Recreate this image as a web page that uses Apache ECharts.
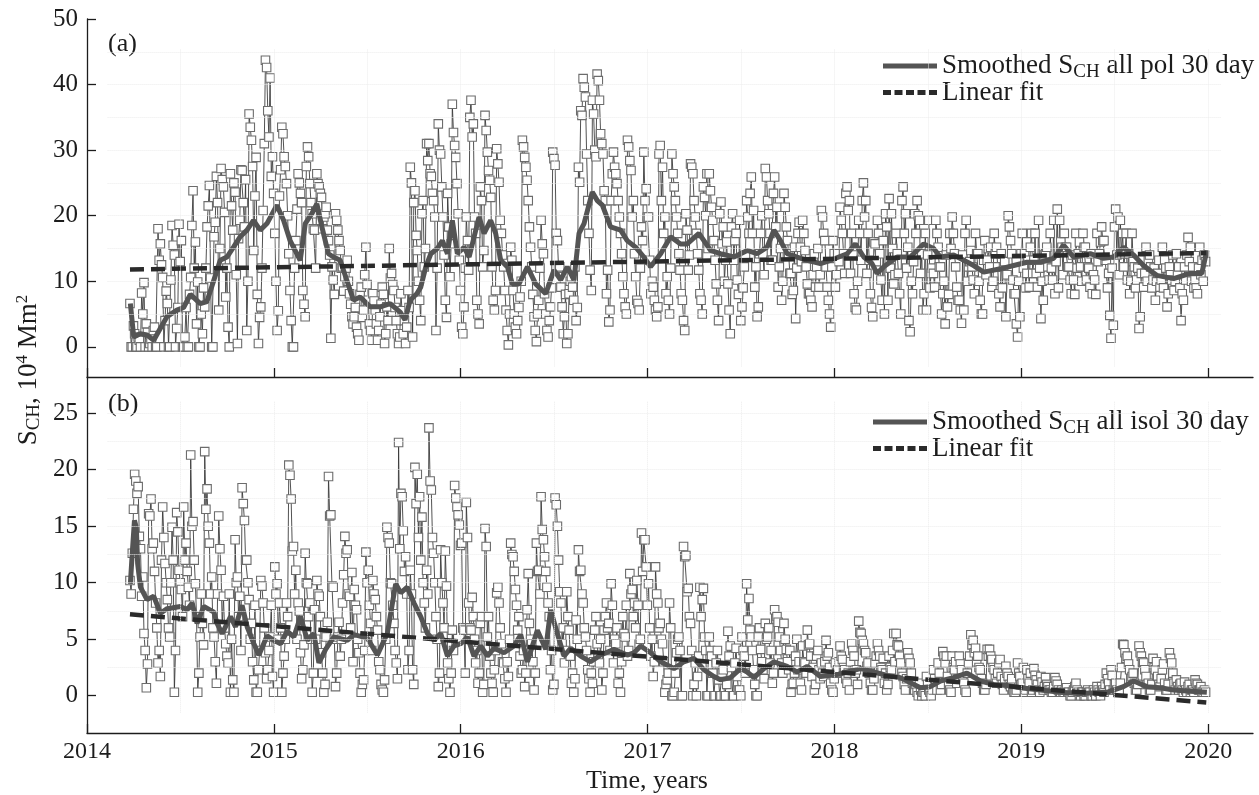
<!DOCTYPE html>
<html><head><meta charset="utf-8">
<script src="https://cdn.jsdelivr.net/npm/echarts@6/dist/echarts.min.js"></script>
<style>html,body{margin:0;padding:0;background:#fff}#c{width:1259px;height:795px}</style>
</head><body><div id="c"></div>
<script>
// time sampling of the measurements (decimal years): main samples at T0 + i*DT, mid samples at T0 + (i+0.5)*DT
const T0 = 2014.23, DT = 0.0125;

// Panel (a): S_CH all polar coronal holes, 10^4 Mm^2 (8 samples / 0.1 yr)
const rawA = [
 6.6,0,2.0,0,1.0,8.2,9.8,3.5, 0,1.2,2.5,0,18.0,15.7,10.6,4.0, 6.6,0,18.5,14.0,2.8,18.7,16.2,0,
 6.0,0,10.6,23.8,16.0,9.9,0,2.0, 6.1,18.3,24.6,0,16.8,26.0,5.6,27.2, 24.4,7.6,3.0,26.4,17.8,23.6,0.5,19.3,
 26.9,18.3,2.5,35.5,31.5,14.7,28.9,0.5, 6.1,20.8,43.7,36.0,41.0,29.0,17.3,2.5, 23.0,33.5,29.0,24.9,14.2,4.0,0,16.2,
 26.4,23.4,8.6,4.6,30.5,24.9,20.3,17.8, 26.4,24.4,22.8,19.8,21.3,16.2,1.3,10.2, 20.3,17.8,14.7,12.2,10.7,13.2,8.1,4.6,
 4.6,3.0,1.0,9.1,5.6,15.2,7.1,2.5, 8.1,5.6,1.0,4.6,9.1,0.5,6.1,15.0, 11.2,8.6,4.0,0.5,8.1,2.0,0.5,8.6,
 27.4,1.5,23.8,14.7,7.1,20.3,12.2,31.0, 31.0,26.0,22.3,2.5,34.0,29.4,19.8,7.1, 23.4,10.7,37.0,30.7,24.9,13.2,3.0,6.1,
 19.8,11.7,37.6,34.0,17.3,5.0,24.4,12.2, 35.3,29.7,25.4,12.2,5.6,30.2,25.1,17.3, 12.2,5.6,0.3,15.2,8.6,3.0,4.0,7.6,
 31.5,28.9,25.4,18.3,12.2,4.6,0.8,7.1, 19.3,14.2,5.0,1.5,6.1,29.7,27.7,16.2, 12.2,6.1,4.6,0.5,8.1,10.7,7.1,4.0,
 27.4,36.0,40.9,38.1,22.3,11.7,37.6,30.0, 41.6,37.6,31.0,23.8,8.1,3.8,22.3,29.7, 26.4,22.3,17.3,10.7,6.1,31.5,28.4,19.8,
 14.2,7.1,5.6,18.3,29.7,24.1,19.8,8.1, 9.1,5.6,6.1,30.7,27.4,19.8,10.7,5.0, 29.4,24.4,19.8,14.2,8.1,4.0,20.3,11.7,
 27.9,26.4,19.8,14.2,8.1,5.0,22.8,26.4, 26.4,21.3,16.2,9.6,4.0,22.1,18.3,13.2, 9.6,2.0,20.3,16.2,10.2,19.3,6.1,12.2,
 22.3,17.3,25.9,20.8,12.2,6.1,17.3,14.2, 27.2,22.3,17.3,13.2,25.9,21.3,12.2,7.1, 23.4,18.3,14.2,11.2,8.6,4.3,17.3,15.2,
 19.3,14.7,9.6,8.1,6.1,14.2,12.2,9.1, 20.8,17.3,12.2,7.1,3.0,16.2,9.1,14.2, 21.3,17.3,11.2,24.4,22.3,17.3,8.1,5.6,
 19.3,13.2,25.0,22.3,17.3,8.1,4.6,15.7, 19.3,14.2,7.1,5.0,18.3,22.6,20.3,9.6, 17.3,11.2,5.0,24.4,20.3,15.2,2.3,8.1,
 20.3,22.3,19.3,14.2,8.1,5.6,19.3,11.2, 11.2,19.3,15.2,12.2,8.1,3.5,6.1,17.3, 19.8,14.2,9.1,7.1,3.6,5.6,19.3,12.2,
 14.7,10.2,17.3,14.2,7.1,5.0,16.2,13.2, 12.2,9.1,17.3,15.2,8.1,14.2,12.2,4.6, 20.0,16.2,10.2,8.1,1.5,4.6,17.3,14.2,
 11.2,9.1,17.3,13.2,11.2,19.3,4.3,7.1, 14.2,12.2,17.3,10.2,8.1,21.0,19.3,15.2, 17.3,15.2,12.2,8.1,10.2,17.3,14.2,12.2,
 17.3,15.2,12.2,9.1,8.1,10.2,17.3,14.2, 18.3,16.2,13.2,11.2,1.3,3.3,21.0,19.8, 19.3,17.3,14.2,10.2,8.1,17.3,12.2,10.2,
 2.8,11.2,9.1,15.2,13.2,12.2,10.2,7.1, 11.2,9.1,15.2,13.2,6.1,12.2,10.2,8.6, 14.2,12.2,4.0,7.1,10.2,16.7,15.2,12.2,
 10.2,8.1,15.2,13.2,14.0
];
const rawAmid = [
 0,3.2,0,1.5,0,5.0,0,2.2, 0.5,0,3.0,0,13.2,12.5,0,8.5, 0,10.2,15.5,0,6.0,13.0,0,1.5,
 0,8.0,18.5,12.0,3.5,0,5.0,9.0, 12.0,21.5,10.5,0,19.0,22.0,15.0,25.5, 20.5,12.0,0,21.5,25.0,11.0,16.5,27.0,
 22.0,25.5,10.0,33.5,27.5,23.0,8.0,4.5, 12.0,31.0,42.6,32.0,26.0,23.4,10.0,5.5, 27.0,32.5,27.5,20.0,8.6,0,12.0,21.0,
 25.0,22.0,6.5,27.5,29.0,22.0,18.0,12.0, 24.9,23.4,18.0,20.3,17.8,14.0,12.2,8.0, 19.3,16.2,12.0,8.5,12.0,10.0,6.5,3.5,
 6.0,2.0,8.0,4.5,11.0,9.5,3.5,1.0, 7.0,3.5,2.5,6.5,8.0,2.0,4.0,10.5, 9.5,6.0,2.0,1.5,5.5,4.0,3.0,6.0,
 25.0,22.0,17.0,10.0,4.0,22.3,15.0,28.4, 26.4,23.4,19.8,12.0,30.0,24.4,14.0,4.5, 18.3,15.7,32.7,28.9,20.3,8.6,2.0,12.0,
 16.2,35.0,32.0,19.8,7.1,3.5,22.3,14.7, 33.0,26.9,22.8,7.1,8.6,27.9,19.3,14.0, 8.6,2.5,5.0,13.2,5.0,2.0,6.0,10.0,
 30.5,27.4,22.3,15.2,8.0,2.5,5.0,12.0, 15.7,8.1,2.5,4.0,9.0,28.7,17.3,12.0, 9.1,2.0,8.0,2.0,10.0,9.1,12.2,6.0,
 25.1,35.3,39.6,29.4,17.3,8.6,35.5,29.0, 40.6,32.5,29.4,22.3,11.7,5.6,26.4,27.4, 24.9,19.8,14.2,8.1,5.0,30.5,26.9,22.3,
 10.7,6.6,12.0,16.2,22.3,19.8,13.2,10.0, 7.1,4.6,29.4,22.3,17.3,8.1,7.1,12.0, 26.4,22.3,17.3,11.7,7.1,2.5,17.8,14.0,
 27.4,22.3,17.3,11.7,7.1,24.4,20.0,15.0, 23.8,19.3,13.2,7.1,20.3,15.7,10.0,16.0, 5.6,18.3,13.2,17.3,8.0,4.0,9.0,14.0,
 19.8,23.4,17.3,9.1,4.6,14.2,20.0,11.0, 25.9,20.3,13.2,23.4,18.3,9.1,15.0,10.0, 21.3,16.2,11.2,8.0,15.2,12.0,19.0,13.0,
 17.3,12.2,8.1,7.1,11.0,9.1,15.0,11.0, 19.8,16.2,9.1,5.0,12.2,14.2,11.0,13.0, 19.3,14.2,23.4,20.8,11.2,14.0,6.0,10.0,
 17.3,22.3,19.8,11.2,13.2,6.0,16.0,13.0, 17.3,10.2,16.2,20.3,7.1,12.0,15.0,11.0, 14.2,8.1,22.3,17.3,12.0,4.0,10.0,13.0,
 17.3,20.0,11.2,5.6,17.3,14.0,9.0,12.0, 9.1,17.3,12.2,5.0,10.0,14.0,8.0,15.0, 17.3,12.2,7.1,5.6,14.0,17.3,10.0,13.0,
 12.2,8.1,14.2,10.0,5.0,13.2,11.0,15.0, 15.2,10.0,14.2,12.2,6.1,9.0,13.0,11.0, 18.3,14.2,8.1,3.5,10.0,14.2,12.0,9.0,
 13.2,15.2,11.2,17.3,9.1,12.0,10.0,14.0, 15.2,10.2,12.0,19.3,13.0,9.0,16.0,11.0, 15.2,12.2,10.2,14.0,8.0,12.0,16.0,10.0,
 15.2,10.2,12.0,14.2,11.0,8.0,13.0,16.0, 16.2,13.2,9.0,4.8,12.0,18.3,14.0,11.0, 14.2,12.2,17.3,14.2,10.0,13.0,9.0,12.0,
 4.6,13.2,11.2,10.0,14.0,9.0,12.0,10.0, 13.2,10.2,9.0,12.0,8.1,11.0,14.0,10.0, 11.0,9.0,8.1,12.2,14.0,13.0,10.0,9.0,
 9.0,12.0,11.0,10.0,13.0
];
// Panel (b): S_CH all isolated coronal holes
const rawB = [
 10.2,12.6,19.6,17.9,14.1,8.8,5.5,0.7, 16.1,17.4,13.5,8.2,2.9,1.7,16.7,11.7, 8.5,5.2,14.9,0.3,16.2,11.1,9.4,16.7,
 13.5,9.6,21.3,15.4,9.9,0.3,5.2,6.4, 21.6,18.3,13.5,10.5,5.2,1.1,15.9,11.1, 8.8,4.6,2.9,0.3,1.4,13.8,10.5,8.8,
 18.4,15.5,12.0,8.5,6.4,1.4,0.3,2.3, 10.2,8.2,3.8,2.3,5.2,1.7,11.4,9.9, 8.2,0.3,3.5,8.2,20.4,17.4,13.2,11.1,
 8.2,3.8,2.3,12.6,9.9,8.2,0.3,7.6, 10.2,8.8,3.8,0.3,5.2,19.4,16.0,9.6, 0.8,5.2,3.5,8.2,14.1,12.9,8.8,10.9,
 9.4,7.6,3.8,0.3,1.4,12.7,11.1,6.4, 10.2,8.5,5.8,2.3,0.5,1.4,14.9,13.5, 9.9,6.4,2.9,22.4,17.9,14.6,12.3,2.3,
 11.1,2.3,20.2,19.6,17.6,15.8,8.2,11.1, 23.7,18.2,12.6,7.0,0.8,12.9,8.2,12.8, 2.9,0.3,5.8,18.6,16.7,15.1,13.5,5.8,
 17.1,8.2,5.8,7.0,2.9,1.1,6.4,0.3, 14.8,5.2,3.5,1.1,2.3,9.1,8.2,4.6, 2.9,0.3,1.7,13.5,12.3,9.4,5.8,3.5,
 2.3,0.8,7.6,6.4,4.6,0.5,13.5,11.1, 17.6,13.8,11.0,8.2,2.3,0.5,17.5,15.0, 9.2,4.6,2.9,9.2,5.8,1.1,0.3,6.7,
 12.9,11.1,8.2,5.2,2.3,0.3,1.1,5.8, 4.6,2.9,0.5,5.8,8.2,6.4,9.9,2.9, 4.6,1.1,0.3,7.0,5.2,3.5,10.8,9.4,
 8.2,10.2,4.6,14.4,13.8,11.4,9.9,3.5, 1.7,11.4,8.2,6.4,4.6,0.3,1.4,8.2, 0,0.3,3.8,5.2,0,13.2,12.4,9.5,
 6.4,0,2.9,1.7,9.6,8.5,5.2,0, 5.2,3.5,0,2.9,1.4,0,2.3,0, 5.7,4.4,0,2.9,1.7,0.5,5.2,3.5,
 9.9,8.6,5.2,2.3,0,5.2,4.1,2.3, 6.4,5.2,2.9,1.1,7.6,7.0,5.2,2.9, 6.4,4.1,2.3,0.3,1.1,3.5,2.3,1.1,
 4.4,2.9,5.8,4.6,1.7,0.5,3.5,2.3, 2.9,1.7,4.9,3.8,1.1,0.3,2.9,2.3, 4.4,3.2,2.3,1.1,0.5,4.6,3.5,2.3,
 6.6,5.5,4.6,3.8,2.9,1.1,0.5,2.9, 4.6,3.5,2.3,1.1,0.5,3.5,2.3,5.5, 5.5,4.4,2.9,1.7,0.5,3.8,2.9,1.1,
 0.5,0.3,1.1,0,0.3,1.7,0.5,0, 2.3,1.1,2.9,0.5,3.9,2.9,1.7,0.5, 3.5,2.3,1.1,3.5,2.3,1.1,0.3,2.9,
 5.4,4.9,4.2,3.5,2.3,1.1,0.5,4.1, 4.1,3.2,2.3,1.1,2.9,1.7,0.5,2.6, 1.7,0.8,0.5,0.3,2.9,1.7,1.1,0.3,
 2.3,1.1,0.3,2.4,1.4,0.5,1.7,0.5, 1.6,0.8,0.5,0.3,1.6,1.0,0.3,0.5, 0.3,0.7,0.3,0,0.5,1.1,0.3,0,
 0.3,0,0.5,0.3,0,0.3,0.8,0.3, 0.8,0.3,2.0,1.1,2.3,0.5,1.1,0.3, 1.1,4.6,3.8,3.5,2.3,1.7,1.1,0.5,
 4.4,3.5,2.9,1.7,1.1,0.5,3.3,2.3, 1.7,0.8,2.3,1.1,0.5,3.8,2.9,1.1, 1.4,0.5,1.1,0.3,0.5,0.8,0.3,0.5,
 1.4,1.0,0.5,0.3,0.5
];
const rawBmid = [
 9.0,16.5,19.0,18.5,13.0,10.5,4.0,2.8, 15.9,13.0,11.0,6.0,4.0,12.0,14.0,10.0, 6.0,10.0,12.0,4.0,14.5,10.0,7.0,12.0,
 11.0,8.0,15.0,12.0,7.0,2.0,9.0,4.5, 16.5,15.0,9.0,6.0,3.0,9.0,13.0,6.0, 6.0,3.5,9.0,5.0,0.3,10.0,7.0,4.0,
 17.0,12.0,10.0,5.0,3.0,8.0,0.3,4.0, 9.7,6.0,1.5,4.0,8.0,0.3,9.0,5.0, 6.0,2.0,5.0,7.0,19.5,12.8,9.0,5.0,
 7.5,1.5,4.5,10.0,7.0,5.0,2.0,5.0, 9.0,7.0,2.0,1.0,6.5,15.9,9.7,5.0, 2.0,6.5,5.0,10.7,12.6,9.0,6.0,3.0,
 8.0,5.0,2.0,1.0,4.0,10.0,8.0,4.0, 9.0,7.0,3.0,1.0,0.3,5.0,14.0,10.0, 8.0,4.0,1.5,13.0,17.6,11.0,9.0,4.0,
 9.0,1.0,17.0,14.0,12.0,10.0,6.0,9.0, 19.0,14.0,10.0,5.0,2.0,10.0,6.0,9.7, 1.5,2.0,4.0,17.5,16.0,13.3,6.0,2.0,
 14.0,6.0,8.7,5.0,4.0,2.0,7.0,1.0, 13.2,7.0,2.0,0.3,4.0,9.6,6.0,3.0, 1.5,3.0,5.0,12.5,11.0,8.0,7.0,2.0,
 4.0,2.0,10.8,5.0,3.0,2.0,11.0,9.0, 14.7,12.3,9.6,7.0,4.0,1.0,16.9,12.0, 8.2,6.0,4.0,7.0,3.5,2.0,1.5,5.0,
 11.0,9.0,6.0,4.0,1.5,2.0,3.0,7.0, 3.5,5.0,2.0,7.0,6.0,4.0,8.0,5.0, 6.0,2.0,3.0,5.5,8.0,4.0,9.0,7.0,
 6.0,8.0,5.0,11.0,13.8,8.0,6.0,5.0, 3.0,9.0,6.0,5.0,3.0,1.0,2.0,6.0, 0,2.0,5.0,4.0,0,12.3,9.2,7.0,
 4.0,1.0,0,3.5,7.0,9.5,4.0,0, 4.0,2.0,0,4.0,0,2.0,0,1.0, 3.5,2.5,0,4.2,0.5,0,4.0,2.0,
 6.7,5.8,4.0,1.0,0,6.0,3.0,1.5, 5.0,6.0,4.0,2.0,6.8,6.5,4.0,2.0, 5.0,3.0,4.0,1.0,2.0,5.0,3.0,0.5,
 3.0,2.0,4.5,3.5,2.5,1.0,4.0,1.5, 2.0,3.0,3.5,2.5,0.5,1.5,2.0,3.0, 3.5,2.5,1.5,2.0,3.0,4.0,2.0,1.0,
 5.6,4.9,4.0,2.6,2.0,0.5,1.5,3.5, 4.0,2.5,3.3,2.0,1.0,2.5,4.0,3.0, 4.5,3.5,2.0,1.0,1.5,3.3,2.0,0.5,
 1.0,0,0.5,0.3,0,1.0,0.3,0.5, 1.5,0.5,2.0,1.0,3.5,3.5,1.0,0.3, 2.5,3.0,1.5,2.8,1.5,0.5,2.0,3.5,
 4.5,3.8,3.0,2.5,1.5,0.5,1.0,3.5, 3.5,2.5,1.5,2.0,3.2,1.0,1.5,2.0, 1.0,1.5,0.3,0.5,2.0,1.0,2.5,0.5,
 1.5,2.0,0.5,1.8,1.0,0.3,1.2,0.8, 1.0,0.5,0.3,0.8,1.3,0.5,0.3,0.3, 0.5,0.3,0,0.3,0.8,0.5,0,0.3,
 0,0.3,0.3,0,0.5,0,0.5,0, 0.5,1.0,1.5,0.5,1.8,1.0,0.5,0.3, 2.5,4.5,3.3,2.8,1.5,2.0,0.5,1.0,
 3.8,3.0,2.3,1.0,0.5,1.0,2.5,3.0, 1.0,1.5,2.8,0.5,1.0,3.3,2.0,0.5, 0.8,1.0,0.5,1.2,0.3,1.0,0.5,0.3,
 1.1,0.5,0.8,0.3,0.3
];
// 30-day smoothed curves [year, value]
const smoothA = [[2014.232,6.6],[2014.250,1.5],[2014.285,2.0],[2014.321,1.8],[2014.357,1.0],[2014.392,2.8],[2014.428,4.6],[2014.481,5.6],[2014.517,6.0],[2014.553,8.0],[2014.606,6.6],[2014.642,6.9],[2014.677,10.0],[2014.713,13.2],[2014.749,13.7],[2014.784,15.2],[2014.820,16.8],[2014.856,17.8],[2014.891,19.3],[2014.927,17.8],[2014.963,18.8],[2015.016,21.6],[2015.052,19.3],[2015.087,16.2],[2015.141,13.2],[2015.168,18.8],[2015.203,20.3],[2015.230,21.8],[2015.257,18.3],[2015.292,14.2],[2015.319,13.7],[2015.355,13.2],[2015.390,10.2],[2015.426,7.1],[2015.462,7.6],[2015.515,6.1],[2015.569,6.1],[2015.622,6.6],[2015.676,5.3],[2015.702,4.1],[2015.729,7.1],[2015.765,8.1],[2015.786,9.1],[2015.813,12.2],[2015.840,14.2],[2015.875,15.0],[2015.902,16.2],[2015.929,14.2],[2015.955,19.3],[2015.982,14.2],[2016.018,15.2],[2016.045,13.7],[2016.098,19.8],[2016.125,17.3],[2016.160,19.3],[2016.187,17.3],[2016.214,13.2],[2016.250,12.2],[2016.276,9.6],[2016.312,9.6],[2016.357,12.2],[2016.401,9.6],[2016.455,8.1],[2016.499,11.7],[2016.535,10.2],[2016.570,12.2],[2016.606,10.2],[2016.633,17.3],[2016.660,18.8],[2016.704,23.6],[2016.731,22.3],[2016.758,21.6],[2016.802,18.3],[2016.856,17.8],[2016.891,16.2],[2016.936,15.2],[2016.980,13.7],[2017.016,12.2],[2017.070,14.2],[2017.123,16.8],[2017.176,15.7],[2017.212,15.7],[2017.275,17.3],[2017.337,14.7],[2017.390,14.2],[2017.462,13.7],[2017.533,14.7],[2017.586,14.2],[2017.640,15.2],[2017.676,17.8],[2017.711,16.2],[2017.747,14.2],[2017.800,13.7],[2017.854,13.2],[2017.925,12.7],[2017.979,13.2],[2018.023,13.7],[2018.068,14.2],[2018.112,15.7],[2018.157,13.7],[2018.201,12.7],[2018.228,11.2],[2018.264,12.2],[2018.335,13.7],[2018.406,13.7],[2018.478,15.7],[2018.531,15.0],[2018.567,13.7],[2018.638,14.0],[2018.692,13.2],[2018.745,12.4],[2018.799,11.4],[2018.888,11.9],[2018.959,12.4],[2019.030,12.9],[2019.102,12.9],[2019.173,13.5],[2019.226,15.5],[2019.280,13.7],[2019.369,14.2],[2019.440,13.5],[2019.494,13.7],[2019.547,15.2],[2019.601,14.0],[2019.654,12.4],[2019.725,10.9],[2019.815,10.4],[2019.904,11.2],[2019.966,11.2],[2019.993,14.7]];
const smoothB = [[2014.232,9.9],[2014.241,12.3],[2014.254,15.5],[2014.264,14.9],[2014.271,11.7],[2014.286,9.6],[2014.321,8.5],[2014.357,8.8],[2014.393,7.3],[2014.429,7.7],[2014.500,7.9],[2014.536,7.6],[2014.563,8.2],[2014.589,6.4],[2014.625,7.9],[2014.679,7.4],[2014.696,6.4],[2014.723,5.5],[2014.768,7.0],[2014.795,6.1],[2014.830,8.0],[2014.857,6.1],[2014.893,4.6],[2014.920,3.6],[2014.964,5.3],[2015.000,4.9],[2015.036,4.6],[2015.071,5.7],[2015.107,5.2],[2015.143,7.0],[2015.179,4.9],[2015.214,5.5],[2015.241,2.9],[2015.277,4.1],[2015.321,5.2],[2015.393,4.9],[2015.429,5.4],[2015.500,5.1],[2015.554,3.6],[2015.607,5.5],[2015.652,9.9],[2015.679,9.1],[2015.714,9.6],[2015.750,8.2],[2015.786,7.0],[2015.822,5.5],[2015.857,4.9],[2015.893,5.5],[2015.929,3.5],[2015.964,4.4],[2016.000,4.6],[2016.036,5.2],[2016.071,3.5],[2016.107,4.4],[2016.143,3.5],[2016.178,4.2],[2016.232,3.8],[2016.285,4.4],[2016.321,5.4],[2016.357,3.0],[2016.410,5.8],[2016.455,4.1],[2016.481,7.6],[2016.517,5.5],[2016.553,3.5],[2016.588,4.2],[2016.642,3.5],[2016.695,3.0],[2016.749,3.6],[2016.820,4.1],[2016.891,3.6],[2016.927,3.8],[2016.963,4.4],[2017.016,3.8],[2017.070,3.0],[2017.141,2.4],[2017.194,3.0],[2017.248,3.3],[2017.301,2.3],[2017.355,1.7],[2017.390,1.4],[2017.444,1.6],[2017.497,2.4],[2017.533,2.1],[2017.569,1.6],[2017.622,2.4],[2017.676,3.0],[2017.747,2.6],[2017.800,2.1],[2017.854,2.6],[2017.925,1.7],[2018.023,1.9],[2018.139,2.4],[2018.210,2.1],[2018.282,1.8],[2018.353,1.6],[2018.460,0.7],[2018.513,0.8],[2018.567,1.3],[2018.638,1.6],[2018.709,2.0],[2018.781,1.3],[2018.852,1.0],[2018.923,0.9],[2018.995,0.7],[2019.102,0.5],[2019.209,0.3],[2019.316,0.2],[2019.458,0.3],[2019.547,0.8],[2019.601,1.3],[2019.672,0.8],[2019.743,0.7],[2019.815,0.5],[2019.904,0.4],[2019.993,0.3]];
// linear fits (end points)
const fitA = [[2014.23, 11.8], [2019.99, 14.3]];
const fitB = [[2014.23, 7.2], [2019.99, -0.6]];
// ticks / labels
const yearTicks = [2014, 2015, 2016, 2017, 2018, 2019, 2020];
const yTicksA = [0, 10, 20, 30, 40, 50];
const yTicksB = [0, 5, 10, 15, 20, 25];
const faintYA = [5, 10, 15, 20, 25, 30, 35, 40, 45];
const faintYB = [2.5, 5, 7.5, 10, 12.5, 15, 17.5, 20, 22.5, 25];
const faintX = [2014.5, 2015, 2015.5, 2016, 2016.5, 2017, 2017.5, 2018, 2018.5, 2019, 2019.5, 2020];
const legendText = {
  smA: 'Smoothed S{sub|CH} all pol 30 day', fitA: 'Linear fit',
  smB: 'Smoothed S{sub|CH} all isol 30 day', fitB: 'Linear fit'
};

const SERIF = 'Liberation Serif';
const INK = '#1c1c1c';
function interleave(main, mid) {
  const out = [];
  main.forEach((v, i) => {
    out.push([T0 + i * DT, v]);
    if (i < mid.length) out.push([T0 + (i + 0.5) * DT, mid[i]]);
  });
  return out;
}

function faintLines(ys, yLo, yHi) {
  const d = [];
  ys.forEach(y => d.push([{coord: [2014.11, y]}, {coord: [2020.07, y]}]));
  faintX.forEach(x => d.push([{coord: [x, yLo]}, {coord: [x, yHi]}]));
  return d;
}

function xAxis(grid, showLabels) {
  return {
    type: 'value', gridIndex: grid, min: 2014, max: 2020.24,
    axisLine: {show: true, onZero: false, lineStyle: {color: INK, width: 1.3}},
    axisTick: {show: true, inside: true, length: 9, customValues: yearTicks, lineStyle: {color: INK, width: 1.3}},
    axisLabel: {show: showLabels, customValues: yearTicks, formatter: v => String(Math.round(v)),
      fontFamily: SERIF, fontSize: 24, color: INK, margin: 7},
    splitLine: {show: false}
  };
}
function yAxis(grid, min, max, ticks) {
  return {
    type: 'value', gridIndex: grid, min: min, max: max,
    axisLine: {show: true, onZero: false, lineStyle: {color: INK, width: 1.3}},
    axisTick: {show: true, inside: true, length: 9, customValues: ticks, lineStyle: {color: INK, width: 1.3}},
    axisLabel: {customValues: ticks, formatter: v => String(v), fontFamily: SERIF, fontSize: 25, color: INK, margin: 9},
    splitLine: {show: false}
  };
}
function rawSeries(idx, main, mid) {
  return {
    type: 'line', xAxisIndex: idx, yAxisIndex: idx, data: interleave(main, mid),
    symbol: 'rect', symbolSize: 8.5, showAllSymbol: true, z: 2,
    lineStyle: {color: '#333333', width: 0.85},
    itemStyle: {color: '#ffffff', borderColor: '#6c6c6c', borderWidth: 1.1}
  };
}
function smoothSeries(idx, name, data) {
  return {
    name: name, type: 'line', xAxisIndex: idx, yAxisIndex: idx, data: data,
    symbol: 'none', z: 3,
    lineStyle: {color: '#545454', width: 5}, itemStyle: {color: '#545454'}
  };
}
function fitSeries(idx, name, data) {
  return {
    name: name, type: 'line', xAxisIndex: idx, yAxisIndex: idx, data: data,
    symbol: 'none', z: 4,
    lineStyle: {color: '#2a2a2a', width: 4.5, type: [14, 7]}, itemStyle: {color: '#2a2a2a'}
  };
}
function gridSeries(idx, ys, lo, hi) {
  return {
    type: 'line', xAxisIndex: idx, yAxisIndex: idx, data: [], z: 1, silent: true,
    markLine: {silent: true, symbol: ['none', 'none'], label: {show: false},
      lineStyle: {color: '#ececec', type: 'dotted', width: 1}, data: faintLines(ys, lo, hi)}
  };
}
const SOLID_ICON = 'path://M0,0.5H54V4.5H0Z';
const DASH_ICON = 'path://M0,0h8v5h-8zM11.5,0h8v5h-8zM23,0h8v5h-8zM34.5,0h8v5h-8zM46,0h8v5h-8z';
function legend(left, top, smName, fitName) {
  return {
    left: left, top: top, orient: 'vertical', padding: 0, itemGap: -3,
    itemWidth: 54, itemHeight: 5, selectedMode: false, symbolKeepAspect: false,
    data: [
      {name: smName, icon: SOLID_ICON, itemStyle: {color: '#545454'}},
      {name: fitName, icon: DASH_ICON, itemStyle: {color: '#2a2a2a'}}
    ],
    formatter: n => legendText[n],
    textStyle: {fontFamily: SERIF, fontSize: 27, lineHeight: 27, color: INK,
      rich: {sub: {fontFamily: SERIF, fontSize: 19, lineHeight: 19, padding: [13, 0, 0, 0], color: INK}}}
  };
}

const chart = echarts.init(document.getElementById('c'), null, {renderer: 'canvas'});
chart.setOption({
  animation: false,
  backgroundColor: '#ffffff',
  grid: [
    {left: 87, top: 19, width: 1166, height: 358},
    {left: 87, top: 377, width: 1166, height: 356}
  ],
  xAxis: [xAxis(0, false), xAxis(1, true)],
  yAxis: [yAxis(0, -4.6, 50, yTicksA), yAxis(1, -3.3, 28.2, yTicksB)],
  legend: [legend(883, 50, 'smA', 'fitA'), legend(873, 406, 'smB', 'fitB')],
  series: [
    gridSeries(0, faintYA, -3, 45.5), gridSeries(1, faintYB, -1.5, 26),
    rawSeries(0, rawA, rawAmid), smoothSeries(0, 'smA', smoothA), fitSeries(0, 'fitA', fitA),
    rawSeries(1, rawB, rawBmid), smoothSeries(1, 'smB', smoothB), fitSeries(1, 'fitB', fitB)
  ],
  graphic: [
    {type: 'text', x: 108, y: 44, style: {text: '(a)', fontFamily: SERIF, fontSize: 26, fill: INK, align: 'left', verticalAlign: 'middle'}},
    {type: 'text', x: 108, y: 404, style: {text: '(b)', fontFamily: SERIF, fontSize: 26, fill: INK, align: 'left', verticalAlign: 'middle'}},
    {type: 'text', x: 647, y: 781, style: {text: 'Time, years', fontFamily: SERIF, fontSize: 26, fill: INK, align: 'center', verticalAlign: 'middle'}},
    {type: 'text', x: 29, y: 370, rotation: Math.PI / 2, style: {
      text: '{m|S}{sub|CH}{m|, 10}{sup|4}{m| Mm}{sup|2}', align: 'center', verticalAlign: 'middle', fill: INK,
      rich: {
        m: {fontFamily: SERIF, fontSize: 27, lineHeight: 30, fill: INK},
        sub: {fontFamily: SERIF, fontSize: 19, lineHeight: 16, verticalAlign: 'bottom', fill: INK},
        sup: {fontFamily: SERIF, fontSize: 17, lineHeight: 14, verticalAlign: 'top', fill: INK}
      }}}
  ]
});
</script>
</body></html>
